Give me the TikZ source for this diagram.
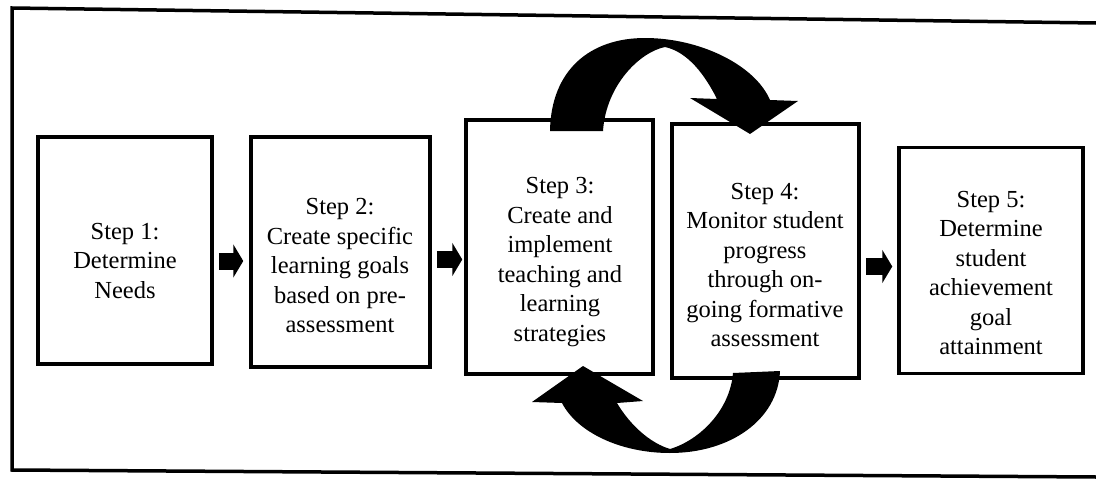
\documentclass[tikz,border=0pt]{standalone}
\usepackage{fontspec}
\setmainfont{Liberation Serif}
\usetikzlibrary{calc,arrows.meta}
\begin{document}
\begin{tikzpicture}[x=1pt,y=-1pt,
  stepbox/.style={draw=black, line width=3.5pt, fill=white, inner sep=0pt},
  steptext/.style={align=center, font=\fontsize{24.5}{29.5}\selectfont, inner sep=0pt},
  flowarrow/.style={line width=17pt, -{Triangle[length=10pt,width=33pt]}},
  looparrow/.style={fill=black, draw=none}]
\useasboundingbox (0,0) rectangle (1096,479);

% outer frame, open on the right
\draw[line width=3.5pt] (1096,23) -- (12,8) -- (12,470) -- (1096,477);

% the five steps
\node[stepbox, minimum width=174pt, minimum height=227pt] (s1) at (125,250.5) {};
\node[stepbox, minimum width=179pt, minimum height=230pt] (s2) at (340.5,252) {};
\node[stepbox, minimum width=187pt, minimum height=254pt] (s3) at (559.5,247) {};
\node[stepbox, minimum width=187pt, minimum height=254pt] (s4) at (765.5,251) {};
\node[stepbox, minimum width=184pt, minimum height=226pt] (s5) at (991,260.5) {};

% forward arrows between steps (horizontal)
\coordinate (a1) at ($(s1.east)+(5,10.5)$);
\coordinate (a2) at ($(s2.east)+(5,7.5)$);
\coordinate (a3) at ($(s4.east)+(5,15.5)$);
\draw[flowarrow] (a1) -- ($(a1 -| s2.west)+(-6,0)$);
\draw[flowarrow] (a2) -- ($(a2 -| s3.west)+(-2,0)$);
\draw[flowarrow] (a3) -- ($(a3 -| s5.west)+(-5,0)$);

% cycle between step 3 and step 4: over the top
\fill[looparrow] (550,131) .. controls (551,70) and (590,38) .. (645,38)
  .. controls (700,38) and (755,65) .. (770,100)
  -- (798,101) -- (750,134) -- (690,98) -- (717,99)
  .. controls (705,75) and (688,52) .. (665,47)
  .. controls (640,52) and (606,85) .. (603,131) -- cycle;

% and back underneath
\fill[looparrow] (780,371) .. controls (778,420) and (730,453) .. (670,453)
  .. controls (620,453) and (577,432) .. (562,403)
  -- (532,402) -- (583,366) -- (643,401) -- (617,403)
  .. controls (630,425) and (650,443) .. (670,449)
  .. controls (700,440) and (730,410) .. (733,373) -- cycle;

% labels
\node[steptext] (t1) at (125,261) {Step 1:\\Determine\\Needs};
\node[steptext] (t2) at (340,266) {Step 2:\\Create specific\\learning goals\\based on pre-\\assessment};
\node[steptext] (t3) at (560,262) {Step 3:\\Create and\\implement\\teaching and\\learning\\strategies};
\node[steptext] (t4) at (765,265) {Step 4:\\Monitor student\\progress\\through on-\\going formative\\assessment};
\node[steptext] (t5) at (991,273) {Step 5:\\Determine\\student\\achievement\\goal\\attainment};
\end{tikzpicture}
\end{document}
